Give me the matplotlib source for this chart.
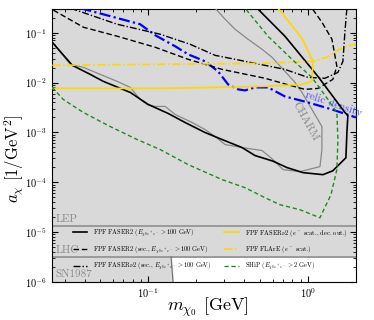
import matplotlib
matplotlib.use("Agg")
import matplotlib.pyplot as plt
import numpy as np

plt.rcParams['font.family'] = 'serif'
plt.rcParams['font.serif'] = ['cmr10', 'DejaVu Serif']
plt.rcParams['mathtext.fontset'] = 'cm'
plt.rcParams['axes.formatter.use_mathtext'] = True

# FPF FASER2 (E > 100 GeV)
faser2_m = [0.0251, 0.0335, 0.0434, 0.0523, 0.0772, 0.1, 0.1334, 0.1703, 0.2271, 0.2901, 0.3868,
            0.4666, 0.5383, 0.6043, 0.7393, 0.9307, 1.241, 1.432, 1.728, 1.753, 1.778, 1.703,
            1.155, 0.7178, 0.4803]
faser2_a = [0.0644, 0.0222, 0.0146, 0.0106, 0.00635, 0.00364, 0.0024, 0.00158, 0.000995, 0.00072,
            0.000497, 0.000343, 0.000298, 0.000265, 0.000197, 0.000156, 0.000142, 0.00017, 0.00031,
            0.000995, 0.0022, 0.00251, 0.0133, 0.0851, 0.311]

# FPF FASER2 (sec.)
faser2s_m = [0.0255, 0.0393, 0.064, 0.1107, 0.1778, 0.2901, 0.5383, 0.7718, 0.9576, 1.155, 1.432,
             1.517, 1.413, 1.223, 1.059]
faser2s_a = [0.284, 0.129, 0.0851, 0.0511, 0.0293, 0.0184, 0.0122, 0.0088, 0.0073, 0.00764, 0.0116,
             0.0212, 0.074, 0.1626, 0.311]

# FPF FASERnu2 (sec.)
fnu2s_m = [0.0326, 0.064, 0.1189, 0.183, 0.2624, 0.3497, 0.7178, 1.0, 1.277, 1.54, 1.655, 1.703, 1.753]
fnu2s_a = [0.311, 0.148, 0.0933, 0.0587, 0.0352, 0.0293, 0.0184, 0.0127, 0.0122, 0.016, 0.0267,
           0.1023, 0.311]

# FPF FASERnu2 (e- scat., dec. out.)
fnu2e_m = [0.0251, 0.1189, 0.5383, 0.9173, 1.059, 1.075, 0.9173, 0.6494]
fnu2e_a = [0.00764, 0.00764, 0.0084, 0.0092, 0.01057, 0.0267, 0.0775, 0.311]

# FPF FLArE (e- scat.)
flare_m = [0.0251, 0.5012, 1.075, 1.314, 1.585, 1.83, 1.995]
flare_a = [0.0222, 0.0243, 0.0267, 0.0322, 0.0466, 0.056, 0.0587]

# SHiP (E > 2 GeV)
ship_m = [0.0251, 0.0294, 0.0393, 0.0579, 0.0853, 0.1189, 0.1778, 0.2901, 0.4038, 0.5383, 0.6683,
          0.8913, 1.189, 1.393, 1.517, 1.54, 1.517, 1.334, 1.059, 0.7943, 0.5623, 0.4038]
ship_a = [0.0080, 0.00459, 0.00251, 0.00131, 0.00072, 0.000453, 0.000226, 0.000113, 7.78e-5, 4.9e-5,
          3.54e-5, 2.81e-5, 1.94e-5, 5.62e-5, 0.000179, 0.00072, 0.00251, 0.00459, 0.0127, 0.0293,
          0.0851, 0.311]

# relic density
relic_m = [0.0376, 0.0579, 0.0891, 0.1107, 0.1475, 0.1778, 0.2271, 0.2738, 0.3162, 0.3652, 0.4038,
           0.4666, 0.5623, 0.7178, 1.0, 1.413, 1.995]
relic_a = [0.311, 0.215, 0.148, 0.0891, 0.0535, 0.0369, 0.0267, 0.0168, 0.0092, 0.0073, 0.00697,
           0.0080, 0.0080, 0.00527, 0.0040, 0.00289, 0.0020]

# CHARM
charm_m = [0.0251, 0.0326, 0.0393, 0.0501, 0.064, 0.0772, 0.0891, 0.0986, 0.1107, 0.1277, 0.1475,
           0.1884, 0.2271, 0.2624, 0.303, 0.3868, 0.516, 0.6043, 0.6982, 0.8913, 1.189, 1.223, 1.223,
           1.059, 0.9173, 0.8298, 0.7178, 0.5957, 0.516, 0.4217, 0.3497, 0.303, 0.2624]
charm_a = [0.0644, 0.0232, 0.0202, 0.0146, 0.01057, 0.0080, 0.00459, 0.00364, 0.00332, 0.00332,
           0.00229, 0.00158, 0.00114, 0.000826, 0.000571, 0.000497, 0.000433, 0.000285, 0.000179,
           0.000163, 0.000206, 0.000453, 0.00131, 0.00289, 0.00635, 0.0101, 0.0168, 0.0322, 0.0466,
           0.074, 0.1175, 0.187, 0.311]

lep_a = 1.3e-5
lhc_a = 3.2e-6
sn_m = [0.139, 0.143]
sn_a = [lhc_a, 1e-6]

fig = plt.figure(figsize=(3.74, 3.2), dpi=100)
ax = fig.add_axes([0.139, 0.119, 0.813, 0.853])
ax.set_xscale('log')
ax.set_yscale('log')
ax.set_xlim(0.025, 2)
ax.set_ylim(1e-6, 0.3)

grey = '#d9d9d9'
ax.set_facecolor(grey)
ax.fill_between([sn_m[0], 2], 1e-6, lhc_a, color='white', zorder=1)
ax.fill([sn_m[0], sn_m[0], sn_m[1]], [lhc_a, 1e-6, 1e-6], color=grey, zorder=1)
ax.axhline(lep_a, color='#9a9a9a', lw=1.4, zorder=2)
ax.axhline(lhc_a, color='#9a9a9a', lw=1.4, zorder=2)
ax.plot(sn_m, sn_a, color='#707070', lw=0.8, zorder=2)

ax.plot(charm_m, charm_a, color='#888888', lw=0.9, zorder=3)
ax.plot(relic_m, relic_a, color='#0000ff', lw=1.6, ls=(0, (5, 1.5, 1, 1.5)), zorder=3)

l1, = ax.plot(faser2_m, faser2_a, color='black', lw=1.2, zorder=4)
l2, = ax.plot(faser2s_m, faser2s_a, color='black', lw=1.0, ls=(0, (4, 2)), zorder=4)
l3, = ax.plot(fnu2s_m, fnu2s_a, color='black', lw=1.0, ls=(0, (5, 1.5, 1, 1.5)), zorder=4)
l4, = ax.plot(fnu2e_m, fnu2e_a, color='#ffd700', lw=1.2, zorder=4)
l5, = ax.plot(flare_m, flare_a, color='#ffd700', lw=1.2, ls=(0, (5, 1.5, 1, 1.5)), zorder=4)
l6, = ax.plot(ship_m, ship_a, color='#1f8a1f', lw=1.0, ls=(0, (3, 2)), zorder=4)

ax.text(0.0262, 1.85e-5, 'LEP', color='#8a8a8a', fontsize=8, va='center')
ax.text(0.0262, 4.4e-6, 'LHC', color='#8a8a8a', fontsize=8, va='center')
ax.text(0.0262, 1.45e-6, 'SN1987', color='#8a8a8a', fontsize=8, va='center')
ax.text(0.96, 0.00166, 'CHARM', color='#888888', fontsize=8, rotation=-61,
        ha='center', va='center')
ax.text(1.45, 0.0038, 'relic density', color='#4b4bff', fontsize=8, rotation=-19,
        ha='center', va='center')

labels = [r'FPF FASER2 ($E_{\chi_0 e^+e^-} > 100$ GeV)',
          r'FPF FASER2 (sec., $E_{\chi_0 e^+e^-} > 100$ GeV)',
          r'FPF FASER$\nu$2 (sec., $E_{\chi_0 e^+e^-} > 100$ GeV)',
          r'FPF FASER$\nu$2 ($e^-$ scat., dec. out.)',
          r'FPF FLArE ($e^-$ scat.)',
          r'SHiP ($E_{\chi_0 e^+e^-} > 2$ GeV)']
ax.legend([l1, l2, l3, l4, l5, l6], labels, ncol=2, frameon=False, fontsize=4.6,
          loc='center', bbox_to_anchor=(0.52, 0.117), handlelength=2.3,
          handletextpad=0.9, columnspacing=2.0, labelspacing=0.9, borderpad=0)

ax.tick_params(which='both', direction='in', top=True, right=True, labelsize=7.5)
ax.tick_params(which='major', length=4)
ax.tick_params(which='minor', length=2)

ax.set_xlabel(r'$m_{\chi_0}$ [GeV]', fontsize=13)
ax.set_ylabel(r'$a_\chi\ [1/\mathrm{GeV}^2]$', fontsize=12)
ax.xaxis.set_label_coords(0.513, -0.05)
ax.yaxis.set_label_coords(-0.085, 0.45)

fig.savefig('out.png', dpi=100)
